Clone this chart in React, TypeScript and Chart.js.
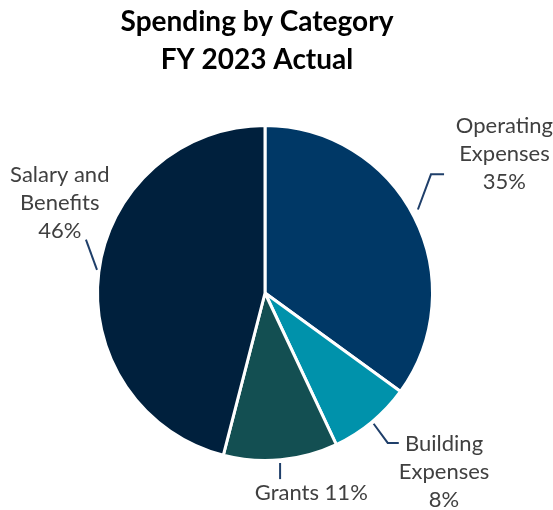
import React, { useEffect, useRef } from "react";
import { Chart, registerables } from "chart.js";

Chart.register(...registerables);

const titleLines = ["Spending by Category", "FY 2023 Actual"];
const categories = ["Operating Expenses", "Building Expenses", "Grants", "Salary and Benefits"];
const values = [35, 8, 11, 46];
const labelTexts = [
  ["Operating", "Expenses", "35%"],
  ["Building", "Expenses", "8%"],
  ["Grants 11%"],
  ["Salary and", "Benefits", "46%"],
];
const colors = ["#003866", "#0092AB", "#134F52", "#00203D"];

// label layout, in pixels relative to pie centre at the reference radius of 168
const REF_R = 168;
const labelLayout = [
  { tx: 238, ty: -138, line: [[152, -83], [165, -118], [178, -118]] },
  { tx: 178, ty: 178, line: [[108, 130], [122, 149], [133, 149]] },
  { tx: 46, ty: 199, line: [[15, 169], [15, 185]] },
  { tx: -204, ty: -90, line: [[-178, -53], [-167, -23]] },
];

const LABEL_FONT = "22px Lato, 'Open Sans', sans-serif";
const TITLE_FONT = "bold 28px Lato, 'Open Sans', sans-serif";
const LINE_H = 28;

const labelPlugin = {
  id: "customLabels",
  afterDraw(chart: any) {
    const ctx = chart.ctx as CanvasRenderingContext2D;
    const meta = chart.getDatasetMeta(0);
    const first = meta.data[0] as any;
    const cx = first.x;
    const cy = first.y;
    const s = (first.outerRadius + 1.5) / REF_R;
    ctx.save();
    // title
    ctx.fillStyle = "#000000";
    ctx.font = TITLE_FONT;
    ctx.textAlign = "center";
    ctx.textBaseline = "middle";
    titleLines.forEach((t, i) => ctx.fillText(t, 257, 22 + i * 38));

    labelLayout.forEach((lay, i) => {
      ctx.strokeStyle = "#1F3F6A";
      ctx.lineWidth = 2;
      ctx.beginPath();
      lay.line.forEach(([dx, dy], j) => {
        const px = cx + dx * s;
        const py = cy + dy * s;
        if (j === 0) ctx.moveTo(px, py);
        else ctx.lineTo(px, py);
      });
      ctx.stroke();
      const lines = labelTexts[i];
      ctx.fillStyle = "#404040";
      ctx.font = LABEL_FONT;
      const x = cx + lay.tx * s;
      const y0 = cy + lay.ty * s - ((lines.length - 1) * LINE_H) / 2;
      lines.forEach((t, k) => ctx.fillText(t, x, y0 + k * LINE_H));
    });
    ctx.restore();
  },
};

export default function App() {
  const ref = useRef<HTMLCanvasElement | null>(null);
  useEffect(() => {
    document.body.style.margin = "0";
    const canvas = ref.current;
    if (!canvas) return;
    const chart = new Chart(canvas, {
      type: "pie",
      data: {
        labels: categories,
        datasets: [
          {
            data: values,
            backgroundColor: colors,
            borderColor: "#ffffff",
            borderWidth: 3,
          },
        ],
      },
      options: {
        responsive: false,
        animation: false,
        layout: { padding: { left: 96, right: 119, top: 124, bottom: 48 } },
        plugins: {
          legend: { display: false },
          title: { display: false },
          tooltip: { enabled: false },
        },
      },
      plugins: [labelPlugin],
    });
    return () => chart.destroy();
  }, []);
  return (
    <div style={{ width: 553, height: 510, background: "#ffffff" }}>
      <canvas ref={ref} width={553} height={510} style={{ display: "block" }} />
    </div>
  );
}
